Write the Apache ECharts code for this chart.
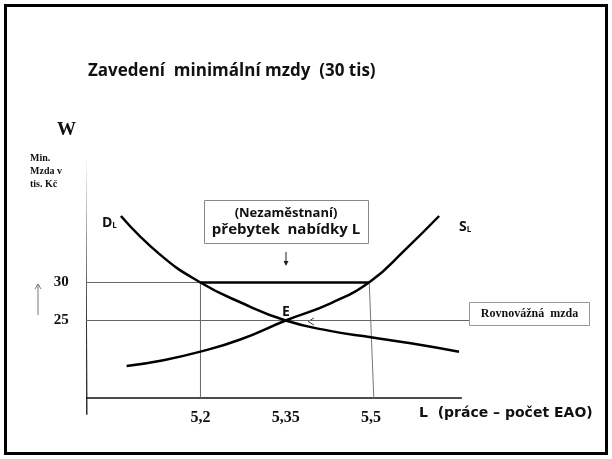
<!DOCTYPE html>
<html>
<head>
<meta charset="utf-8">
<script src="https://cdn.jsdelivr.net/npm/echarts@6/dist/echarts.min.js"></script>
<style>
  html, body { margin: 0; padding: 0; background: #fff; }
  #chart { width: 612px; height: 459px; }
</style>
</head>
<body>
<div id="chart"></div>
<script>
// křivka poptávky po práci (D_L)
var demandX = [5.06, 5.13, 5.2, 5.27, 5.35, 5.43, 5.5, 5.57, 5.655];
var demandY = [38.75, 33.6, 30, 27.4, 25, 23.6, 22.8, 22.0, 20.9];
// křivka nabídky práce (S_L)
var supplyX = [5.07, 5.13, 5.2, 5.27, 5.35, 5.43, 5.5, 5.56, 5.62];
var supplyY = [19.0, 19.7, 20.9, 22.5, 25, 27.3, 30.2, 34.3, 38.75];
// mzdy a množství práce
var minWage = 30;
var eqWage = 25;
var surplusL = [5.2, 5.497];
var eqL = 5.35;
// osy
var xTicks = [5.2, 5.35, 5.5];
var xTickLabels = ['5,2', '5,35', '5,5'];
var yTicks = [25, 30];
var yTickLabels = ['25', '30'];
var xAxisSpan = [4.963, 5.66];
var xAxisLevel = 14.8;
var yAxisSpan = [12.6, 50.1];
var eqLineSpan = [4.992, 5.6725];

var serif = '"Liberation Serif", "Times New Roman", serif';
var sans = '"Open Sans", "DejaVu Sans", sans-serif';

function pairs(xs, ys) {
  return xs.map(function (x, i) { return [x, ys[i]]; });
}

function seg(data, width, color) {
  return {
    type: 'line', data: data, symbol: 'none', clip: false, silent: true,
    lineStyle: { width: width, color: color }
  };
}

var myChart = echarts.init(document.getElementById('chart'), null, { renderer: 'canvas' });

var option = {
  animation: false,
  backgroundColor: '#fff',
  title: {
    text: 'Zavedení  minimální mzdy  (30 tis)',
    left: 88, top: 63, padding: 0,
    textStyle: { fontFamily: sans, fontWeight: 'bold', fontSize: 17, color: '#111' }
  },
  grid: { left: 86.8, right: 127.4, top: 130.5, bottom: 62.5 },
  xAxis: {
    type: 'value', min: 5.0, max: 5.7,
    axisLine: { show: false }, axisTick: { show: false }, splitLine: { show: false },
    axisLabel: {
      customValues: xTicks,
      margin: 13,
      fontFamily: serif, fontWeight: 'bold', fontSize: 16, color: '#111',
      formatter: function (v) {
        var i = xTicks.findIndex(function (t) { return Math.abs(t - v) < 1e-6; });
        return i < 0 ? '' : xTickLabels[i];
      }
    }
  },
  yAxis: {
    type: 'value', min: 15, max: 50,
    axisLine: { show: false }, axisTick: { show: false }, splitLine: { show: false },
    axisLabel: {
      customValues: yTicks,
      margin: 18,
      fontFamily: serif, fontWeight: 'bold', fontSize: 15, color: '#111',
      formatter: function (v) {
        var i = yTicks.findIndex(function (t) { return Math.abs(t - v) < 1e-6; });
        return i < 0 ? '' : yTickLabels[i];
      }
    }
  },
  series: [
    // osy
    seg([[4.997, yAxisSpan[1]], [5.0, yAxisSpan[0]]], 1.5, '#333'),
    seg([[xAxisSpan[0], xAxisLevel], [xAxisSpan[1], xAxisLevel]], 1.5, '#111'),
    // pomocné čáry
    seg([[5.0, minWage], [xTicks[2], minWage]], 1, '#666'),
    seg([[eqLineSpan[0], eqWage], [eqLineSpan[1], eqWage]], 1, '#666'),
    seg([[surplusL[0], minWage], [surplusL[0], xAxisLevel]], 1, '#666'),
    seg([[xTicks[2] - 0.003, minWage], [xTicks[2] + 0.005, xAxisLevel]], 1, '#777'),
    // přebytek nabídky
    seg([[surplusL[0], minWage], [surplusL[1], minWage]], 2.5, '#000'),
    // křivky
    {
      name: 'DL', type: 'line', data: pairs(demandX, demandY), smooth: 0.5,
      symbol: 'none', clip: false, silent: true, lineStyle: { width: 2.5, color: '#000' }
    },
    {
      name: 'SL', type: 'line', data: pairs(supplyX, supplyY), smooth: 0.5,
      symbol: 'none', clip: false, silent: true, lineStyle: { width: 2.5, color: '#000' }
    }
  ],
  graphic: [
    { type: 'rect', shape: { x: 5.5, y: 5.5, width: 601, height: 448 },
      style: { fill: 'none', stroke: '#000', lineWidth: 3 } },
    { type: 'text', x: 57, y: 121,
      style: { text: 'W', font: 'bold 19px ' + serif, fill: '#111' } },
    { type: 'text', x: 30, y: 152,
      style: { text: 'Min.\nMzda v\ntis. Kč', font: 'bold 10px ' + serif, lineHeight: 13, fill: '#111' } },
    { type: 'text', x: 102, y: 216,
      style: { text: '{a|D}{b|L}', rich: {
        a: { font: 'bold 14px ' + sans, fill: '#111' },
        b: { font: 'bold 8px ' + sans, fill: '#111', padding: [5, 0, 0, 0] } } } },
    { type: 'text', x: 459, y: 220,
      style: { text: '{a|S}{b|L}', rich: {
        a: { font: 'bold 14px ' + sans, fill: '#111' },
        b: { font: 'bold 8px ' + sans, fill: '#111', padding: [5, 0, 0, 0] } } } },
    { type: 'text', x: 286, y: 312,
      style: { text: 'E', font: 'bold 14px ' + sans, fill: '#111', align: 'center', verticalAlign: 'middle' } },
    // box přebytek
    { type: 'rect', shape: { x: 204.5, y: 200.5, width: 164, height: 43 },
      style: { fill: '#fff', stroke: '#888', lineWidth: 1 } },
    { type: 'text', x: 286, y: 213,
      style: { text: '(Nezaměstnaní)', font: 'bold 13px ' + sans, fill: '#111', align: 'center', verticalAlign: 'middle' } },
    { type: 'text', x: 286, y: 230,
      style: { text: 'přebytek  nabídky L', font: 'bold 15px ' + sans, fill: '#111', align: 'center', verticalAlign: 'middle' } },
    // šipka dolů
    { type: 'line', shape: { x1: 286, y1: 252, x2: 286, y2: 262 }, style: { stroke: '#222', lineWidth: 1 } },
    { type: 'polygon', shape: { points: [[283.5, 261], [288.5, 261], [286, 266]] }, style: { fill: '#222' } },
    // box rovnovážná mzda
    { type: 'rect', shape: { x: 469.5, y: 302.5, width: 120, height: 23 },
      style: { fill: '#fff', stroke: '#999', lineWidth: 1 } },
    { type: 'text', x: 529.5, y: 314,
      style: { text: 'Rovnovážná  mzda', font: 'bold 12px ' + serif, fill: '#111', align: 'center', verticalAlign: 'middle' } },
    { type: 'polyline', shape: { points: [[314, 318], [308, 321.5], [314, 325]] },
      style: { stroke: '#444', lineWidth: 1, fill: 'none' } },
    // šipka nahoru
    { type: 'line', shape: { x1: 38, y1: 315, x2: 38, y2: 284 }, style: { stroke: '#777', lineWidth: 1 } },
    { type: 'polyline', shape: { points: [[35, 289], [38, 284], [41, 289]] },
      style: { stroke: '#777', lineWidth: 1, fill: 'none' } },
    { type: 'text', x: 419, y: 413,
      style: { text: 'L  (práce – počet EAO)', font: 'bold 14px "DejaVu Sans", sans-serif', fill: '#111', verticalAlign: 'middle' } }
  ]
};

myChart.setOption(option);
</script>
</body>
</html>
